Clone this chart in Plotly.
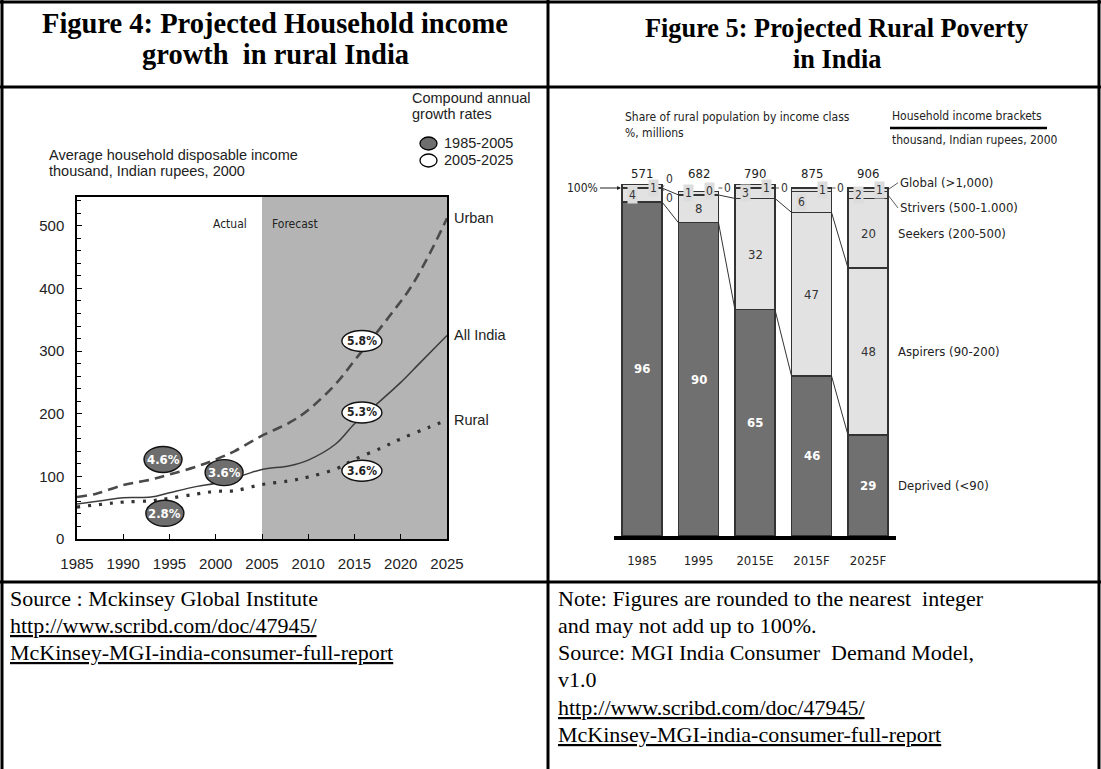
import plotly.graph_objects as go

W, H = 1101, 769
def X(p): return p / W
def Y(p): return 1 - p / H

# ---------------- Figure 4 data ----------------
urban_years = [1985, 1987, 1990, 1993, 1995, 1998, 2000, 2002, 2005, 2008, 2010, 2013, 2015, 2017, 2019, 2021, 2023, 2025]
urban_vals = [67, 72, 86, 95, 103, 116, 127, 140, 165, 186, 206, 248, 285, 322, 360, 400, 452, 512]
allindia_years = [1985, 1988, 1990, 1993, 1995, 1998, 2000, 2003, 2005, 2008, 2010, 2013, 2015, 2017, 2020, 2022, 2025]
allindia_vals = [56, 62, 66, 67, 74, 84, 89, 102, 111, 117, 126, 152, 184, 210, 250, 280, 325]
rural_years = [1985, 1988, 1990, 1993, 1995, 1998, 2000, 2002, 2005, 2008, 2010, 2013, 2015, 2018, 2020, 2023, 2025]
rural_vals = [51, 56, 59, 61, 65, 72, 76, 77, 87, 93, 99, 112, 127, 146, 160, 178, 190]

cagr_labels = ["4.6%", "3.6%", "2.8%", "5.8%", "5.3%", "3.6%"]
cagr_years = [1994.3, 2000.9, 1994.5, 2015.8, 2015.8, 2015.8]
cagr_values = [127, 106, 41, 316, 202, 109]
cagr_period = ["1985-2005", "1985-2005", "1985-2005", "2005-2025", "2005-2025", "2005-2025"]

x_ticks4 = [1985, 1990, 1995, 2000, 2005, 2010, 2015, 2020, 2025]
y_ticks4 = [0, 100, 200, 300, 400, 500]

# ---------------- Figure 5 data ----------------
cats = ["1985", "1995", "2015E", "2015F", "2025F"]
totals = [571, 682, 790, 875, 906]
deprived = [96, 90, 65, 46, 29]
aspirers = [4, 8, 32, 47, 48]
seekers = [1, 1, 3, 6, 20]
strivers = [0, 0, 1, 1, 2]
global_cls = [0, 0, 0, 0, 1]
class_names = ["Deprived (<90)", "Aspirers (90-200)", "Seekers (200-500)",
               "Strivers (500-1.000)", "Global (>1,000)"]

# ---------------- layout geometry ----------------
L_X0, L_X1, L_Y0, L_Y1 = 77, 447, 539, 197
Y4MAX = 546
R_X0, R_X1, R_Y0, R_Y1 = 613.75, 896.25, 536, 170
PCT_PX = 3.48
Y5MAX = (R_Y0 - R_Y1) / PCT_PX
BARW = 0.708

SANS = "Liberation Sans, Arial, sans-serif"
NARROW = "DejaVu Sans Condensed, Liberation Sans Narrow, Arial Narrow, sans-serif"
SERIF = "Liberation Serif, Times New Roman, serif"
NS = 12

fig = go.Figure()

LINECOL = "#3c3c3c"
fig.add_trace(go.Scatter(x=urban_years, y=urban_vals, mode="lines", line=dict(color="#4a4a4a", width=2.6, dash="10px,6px", shape="spline"), xaxis="x", yaxis="y", showlegend=False))
fig.add_trace(go.Scatter(x=allindia_years, y=allindia_vals, mode="lines", line=dict(color=LINECOL, width=1.5, shape="spline"), xaxis="x", yaxis="y", showlegend=False))
fig.add_trace(go.Scatter(x=rural_years, y=rural_vals, mode="lines", line=dict(color="#333333", width=3.2, dash="3px,8px", shape="spline"), xaxis="x", yaxis="y", showlegend=False))

# stacked bars
LIGHT = "#e2e2e2"
DARK = "#707070"
seg_lists = [deprived, aspirers, seekers, strivers, global_cls]
seg_colors = [DARK, LIGHT, LIGHT, LIGHT, LIGHT]
for vals, col, nm in zip(seg_lists, seg_colors, class_names):
    fig.add_trace(go.Bar(x=cats, y=vals, marker=dict(color=col, line=dict(color="#333333", width=1.2)),
                         width=BARW, xaxis="x2", yaxis="y2", showlegend=False, name=nm))

shapes = []
ann = []

# ---------- table borders ----------
def hline(y, x0, x1, w=3):
    shapes.append(dict(type="line", xref="paper", yref="paper", x0=X(x0), x1=X(x1), y0=Y(y), y1=Y(y), line=dict(color="black", width=w)))
def vline(x, y0, y1, w=3):
    shapes.append(dict(type="line", xref="paper", yref="paper", x0=X(x), x1=X(x), y0=Y(y0), y1=Y(y1), line=dict(color="black", width=w)))

hline(2, 0, 1101)
hline(87, 0, 1101)
hline(582, 0, 1101)
vline(2, 0, 769)
vline(548, 0, 769)
vline(1099, 0, 769)

# ---------- titles ----------
def text(x, y, s, size, font=SERIF, anchor="center", color="black", **kw):
    ann.append(dict(xref="paper", yref="paper", x=X(x), y=Y(y), text=s, showarrow=False,
                    xanchor=anchor, yanchor="middle", font=dict(family=font, size=size, color=color), **kw))

text(275, 23, "<b>Figure 4: Projected Household income</b>", 28.5)
text(275, 54, "<b>growth\u00a0 in rural India</b>", 28.5)
text(836.5, 28, "<b>Figure 5: Projected Rural Poverty</b>", 26.3)
text(836.5, 59, "<b>in India</b>", 26.3)

# ---------- footers ----------
left_notes = ["Source : Mckinsey Global Institute", "http://www.scribd.com/doc/47945/", "McKinsey-MGI-india-consumer-full-report"]
right_notes = ["Note: Figures are rounded to the nearest\u00a0 integer", "and may not add up to 100%.",
               "Source: MGI India Consumer\u00a0 Demand Model,", "v1.0",
               "http://www.scribd.com/doc/47945/", "McKinsey-MGI-india-consumer-full-report"]
for col_x, notes in [(8, left_notes), (556, right_notes)]:
    for i, s in enumerate(notes):
        f = dict(family=SERIF, size=22, color="black")
        if s.startswith("http") or s.startswith("McKinsey-"):
            f["lineposition"] = "under"
        ann.append(dict(xref="paper", yref="paper", x=X(col_x), y=Y(598 + 27.3 * i), text=s, showarrow=False,
                        xanchor="left", yanchor="middle", font=f))

# ---------- Figure 4 annotations ----------
text(47, 155, "Average household disposable income", 14.5, SANS, "left", "#222")
text(47, 171, "thousand, Indian rupees, 2000", 14.5, SANS, "left", "#222")
text(410, 98, "Compound annual", 14.5, SANS, "left", "#222")
text(410, 114, "growth rates", 14.5, SANS, "left", "#222")
text(442, 143, "1985-2005", 14.5, SANS, "left", "#222")
text(442, 160, "2005-2025", 14.5, SANS, "left", "#222")
shapes.append(dict(type="circle", xref="paper", yref="paper", x0=X(420), x1=X(437), y0=Y(150), y1=Y(137),
                   fillcolor="#6e6e6e", line=dict(color="black", width=1.3)))
shapes.append(dict(type="circle", xref="paper", yref="paper", x0=X(420), x1=X(437), y0=Y(167), y1=Y(154),
                   fillcolor="white", line=dict(color="black", width=1.3)))

# forecast shading
shapes.append(dict(type="rect", xref="x", yref="y", x0=2005, x1=2025, y0=0, y1=Y4MAX,
                   fillcolor="#b4b4b4", line=dict(width=0), layer="below"))
ann.append(dict(xref="x", yref="paper", x=2005, y=Y(215), text="Actual", showarrow=False, xanchor="right", xshift=-13,
                font=dict(family=NARROW, size=NS, color="#222")))
ann.append(dict(xref="x", yref="paper", x=2005, y=Y(215), text="Forecast", showarrow=False, xanchor="left", xshift=8,
                font=dict(family=NARROW, size=NS, color="#222")))

# series end labels
for nm, ys in [("Urban", urban_vals), ("All India", allindia_vals), ("Rural", rural_vals)]:
    ann.append(dict(xref="x", yref="y", x=2025, y=ys[-1], text=nm, showarrow=False, xanchor="left", xshift=5,
                    font=dict(family=SANS, size=14.5, color="#222")))

# growth-rate bubbles
px_per_year = (L_X1 - L_X0) / 40.0
px_per_unit = (L_Y0 - L_Y1) / Y4MAX
for lab, yr, v, per in zip(cagr_labels, cagr_years, cagr_values, cagr_period):
    dark = per == "1985-2005"
    hw, hh = (19, 13) if dark else (20, 10.5)
    dx, dy = hw / px_per_year, hh / px_per_unit
    shapes.append(dict(type="circle", xref="x", yref="y", x0=yr - dx, x1=yr + dx, y0=v - dy, y1=v + dy,
                       fillcolor="#6e6e6e" if dark else "white", line=dict(color="#111", width=1.4)))
    ann.append(dict(xref="x", yref="y", x=yr, y=v, text="<b>%s</b>" % lab, showarrow=False,
                    font=dict(family=NARROW, size=13 if dark else 12, color="white" if dark else "#222")))

# ---------- Figure 5 annotations ----------
text(623, 117, "Share of rural population by income class", NS, NARROW, "left", "#222")
text(623, 133, "%, millions", NS, NARROW, "left", "#222")
text(890, 116, "Household income brackets", NS, NARROW, "left", "#222")
hline(128, 890, 1047, 2.5)
text(890, 140, "thousand, Indian rupees, 2000", NS, NARROW, "left", "#222")

half = BARW / 2
for i, c in enumerate(cats):
    ann.append(dict(xref="x2", yref="y2", x=i, y=100, yshift=15, text=str(totals[i]), showarrow=False,
                    font=dict(family=NARROW, size=13, color="#222")))
    segs = [deprived[i], aspirers[i], seekers[i], strivers[i], global_cls[i]]
    cum = 0
    small = []
    for k, v in enumerate(segs):
        center = cum + v / 2.0
        if k == 0:
            ann.append(dict(xref="x2", yref="y2", x=i, y=center, text="<b>%d</b>" % v, showarrow=False,
                            font=dict(family=NARROW, size=13, color="white")))
        elif v >= 8:
            ann.append(dict(xref="x2", yref="y2", x=i, y=center, text="%d" % v, showarrow=False,
                            font=dict(family=NARROW, size=13, color="#333")))
        else:
            small.append((v, min(center, 100), cum))
        cum += v
    for j, (v, cy, base) in enumerate(small):
        if j == 0:
            ann.append(dict(xref="x2", yref="y2", x=i - 0.17, y=cy, text="%d" % v, showarrow=False, bgcolor="#dcdcdc",
                            borderpad=1, font=dict(family=NARROW, size=NS, color="#333")))
        elif j == 1:
            ann.append(dict(xref="x2", yref="y2", x=i + 0.2, y=cy, text="%d" % v, showarrow=False, bgcolor="#dcdcdc",
                            borderpad=1, font=dict(family=NARROW, size=NS, color="#333")))
        else:
            n_out = len(small) - 2
            if n_out == 1:
                ax, ay = 9, 0
            else:
                ax, ay = (7, 10) if j == 2 else (7, -9)
            ann.append(dict(xref="x2", yref="y2", x=i + half, y=100, text="%d" % v, showarrow=True, arrowhead=0,
                            arrowwidth=0.8, arrowcolor="#333", ax=ax, ay=ay, standoff=0,
                            font=dict(family=NARROW, size=NS, color="#333")))

# connectors between bars (deprived top and aspirers top)
for i in range(len(cats) - 1):
    for a, b in [(deprived[i], deprived[i + 1]), (deprived[i] + aspirers[i], deprived[i + 1] + aspirers[i + 1])]:
        shapes.append(dict(type="line", xref="x2", yref="y2", x0=i + half, x1=i + 1 - half, y0=a, y1=b,
                           line=dict(color="#333", width=1)))

# 100% arrow
ann.append(dict(xref="x2", yref="y2", x=-half, y=100, text="100%", showarrow=True, arrowhead=2, arrowsize=0.8,
                arrowwidth=1, arrowcolor="#222", ax=-22, ay=0, xanchor="right", standoff=1,
                font=dict(family=NARROW, size=NS, color="#222")))

# class labels at right of last bar
last = len(cats) - 1
lsegs = [deprived[last], aspirers[last], seekers[last], strivers[last], global_cls[last]]
cum = 0
centers = []
for v in lsegs:
    centers.append(cum + v / 2.0)
    cum += v
for k in range(3):
    ann.append(dict(xref="x2", yref="y2", x=last + 0.5, y=centers[k], text=class_names[k], showarrow=False,
                    xanchor="left", font=dict(family=NARROW, size=13, color="#222")))
ann.append(dict(xref="x2", yref="y2", x=last + half, y=centers[4], text=class_names[4], showarrow=True, arrowhead=0,
                arrowwidth=0.8, arrowcolor="#333", ax=10, ay=-7, xanchor="left", standoff=0,
                font=dict(family=NARROW, size=13, color="#222")))
ann.append(dict(xref="x2", yref="y2", x=last + half, y=centers[3], text=class_names[3], showarrow=True, arrowhead=0,
                arrowwidth=0.8, arrowcolor="#333", ax=10, ay=13, xanchor="left", standoff=0,
                font=dict(family=NARROW, size=13, color="#222")))

fig.update_layout(
    width=W, height=H, margin=dict(l=0, r=0, t=0, b=0, pad=0, autoexpand=False),
    paper_bgcolor="white", plot_bgcolor="white",
    barmode="stack", showlegend=False,
    shapes=shapes, annotations=ann,
    xaxis=dict(domain=[X(L_X0), X(L_X1)], range=[1985, 2025], tickvals=x_ticks4, ticks="inside", ticklen=5,
               tickcolor="black", showline=True, linecolor="black", linewidth=1.5, mirror=True, showgrid=False,
               zeroline=False, tickfont=dict(family=SANS, size=15, color="#222"), ticklabelstandoff=10, anchor="y",
               automargin=False),
    yaxis=dict(domain=[Y(L_Y0), Y(L_Y1)], range=[0, Y4MAX], tickvals=y_ticks4, ticks="inside", ticklen=5,
               tickcolor="black", showline=True, linecolor="black", linewidth=1.5, mirror=True, showgrid=False,
               zeroline=False, tickfont=dict(family=SANS, size=15, color="#222"), ticklabelstandoff=8,
               minor=dict(dtick=20, ticks="inside", ticklen=4, tickcolor="black", showgrid=False), anchor="x",
               automargin=False),
    xaxis2=dict(domain=[X(R_X0), X(R_X1)], range=[-0.5, 4.5], type="category", ticks="", showline=True,
                linecolor="black", linewidth=3.5, showgrid=False, zeroline=False,
                tickfont=dict(family=NARROW, size=13, color="#222"), ticklabelstandoff=10, anchor="y2",
                automargin=False),
    yaxis2=dict(domain=[Y(R_Y0), Y(R_Y1)], range=[0, Y5MAX], visible=False, anchor="x2", automargin=False),
)

fig.write_html("out.html")
